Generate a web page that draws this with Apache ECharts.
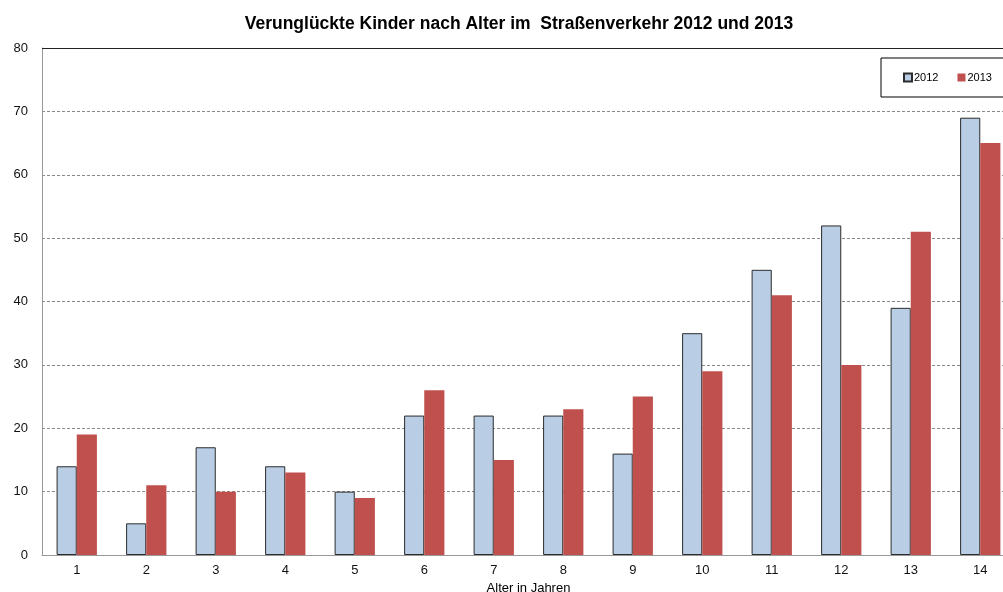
<!DOCTYPE html>
<html>
<head>
<meta charset="utf-8">
<script src="https://cdn.jsdelivr.net/npm/echarts@6/dist/echarts.min.js"></script>
<style>
  html, body { margin: 0; padding: 0; background: #fff; }
  #chart { width: 1003px; height: 592px; }
</style>
</head>
<body>
<div id="chart"></div>
<script>
// Alter der Kinder (Kategorien)
var ages = ['1', '2', '3', '4', '5', '6', '7', '8', '9', '10', '11', '12', '13', '14'];
// Verunglückte Kinder 2012
var values2012 = [14, 5, 17, 14, 10, 22, 22, 22, 16, 35, 45, 52, 39, 69];
// Verunglückte Kinder 2013
var values2013 = [19, 11, 10, 13, 9, 26, 15, 23, 25, 29, 41, 30, 51, 65];

var chart = echarts.init(document.getElementById('chart'));
var font = 'Arial, "Liberation Sans", sans-serif';

var option = {
  animation: false,
  textStyle: { fontFamily: font },
  title: {
    text: 'Verunglückte Kinder nach Alter im  Straßenverkehr 2012 und 2013',
    left: 514,
    textAlign: 'center',
    top: 10,
    textStyle: { fontSize: 17.5, fontWeight: 'bold', color: '#000', fontFamily: font }
  },
  legend: {
    data: ['2012', '2013'],
    orient: 'horizontal',
    left: 881,
    top: 58,
    width: 160,
    padding: [14, 40, 14, 22],
    itemWidth: 8,
    itemHeight: 8,
    itemGap: 19,
    icon: 'rect',
    borderColor: '#000',
    borderWidth: 1,
    textStyle: { fontSize: 11, color: '#000', padding: [0, 0, 0, -3] }
  },
  grid: {
    left: 42,
    right: -12,
    top: 48,
    bottom: 37,
    outerBoundsMode: 'none'
  },
  xAxis: {
    type: 'category',
    data: ages,
    name: 'Alter in Jahren',
    nameLocation: 'middle',
    nameGap: 21,
    nameTextStyle: { fontSize: 13, color: '#000' },
    axisLine: { lineStyle: { color: '#999', width: 1 } },
    axisTick: { show: false },
    axisLabel: { fontSize: 13, color: '#111', margin: 9 }
  },
  yAxis: {
    type: 'value',
    min: 0,
    max: 80,
    interval: 10,
    axisLine: { show: true, lineStyle: { color: '#999', width: 1 } },
    axisTick: { show: false },
    axisLabel: { fontSize: 13, color: '#111', margin: 14 },
    splitLine: { lineStyle: { color: '#888', type: [3, 2], width: 1 } }
  },
  series: [
    {
      name: '2012',
      type: 'bar',
      data: values2012,
      barGap: '0%',
      barCategoryGap: '42%',
      itemStyle: { color: '#B9CDE5', borderColor: '#2b2b2b', borderWidth: 1 },
      markLine: {
        silent: true,
        symbol: 'none',
        label: { show: false },
        lineStyle: { color: '#222', type: 'solid', width: 1 },
        data: [{ yAxis: 80 }]
      }
    },
    {
      name: '2013',
      type: 'bar',
      data: values2013,
      itemStyle: { color: '#C0504D' }
    }
  ]
};

chart.setOption(option);
</script>
</body>
</html>
